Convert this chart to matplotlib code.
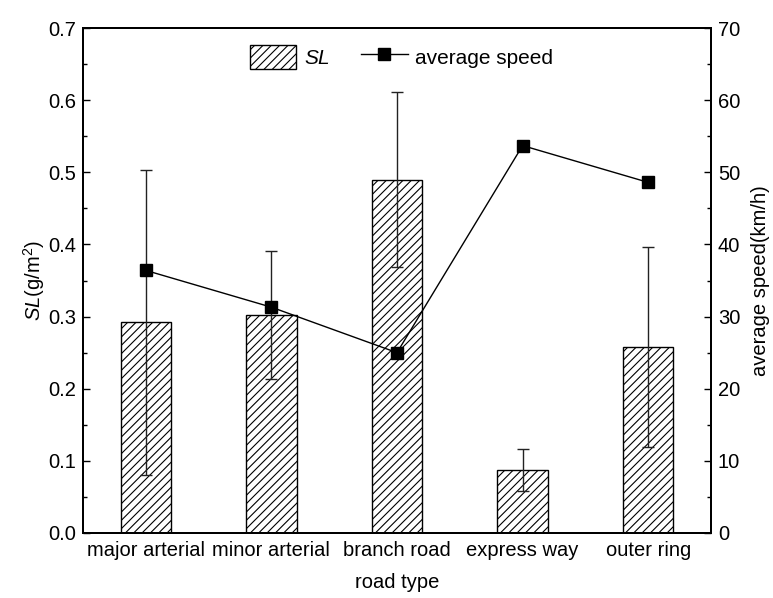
import matplotlib
matplotlib.use("Agg")
import matplotlib.pyplot as plt
import numpy as np
from matplotlib.ticker import MultipleLocator

plt.rcParams['font.family'] = ['Liberation Sans', 'DejaVu Sans']
plt.rcParams['mathtext.fontset'] = 'custom'
plt.rcParams['mathtext.rm'] = 'Liberation Sans'
plt.rcParams['mathtext.it'] = 'Liberation Sans:italic'
plt.rcParams['hatch.linewidth'] = 0.8

categories = ["major arterial", "minor arterial", "branch road", "express way", "outer ring"]
sl_values = [0.292, 0.302, 0.490, 0.087, 0.258]
sl_errors = [0.211, 0.089, 0.121, 0.029, 0.139]
avg_speed = [36.4, 31.3, 25.0, 53.7, 48.6]

fig = plt.figure(figsize=(7.73, 5.98), dpi=100)
ax = fig.add_axes([83/773, 1-533/598, 628/773, 505/598])
x = np.arange(len(categories))

bars = ax.bar(x, sl_values, width=0.4, color='white', edgecolor='black',
              hatch='////', linewidth=1.0, label='$\\mathit{SL}$', zorder=2)
ax.errorbar(x, sl_values, yerr=sl_errors, fmt='none', ecolor='#222222',
            elinewidth=1.0, capsize=4, capthick=1.0, zorder=3)

ax.set_xlim(-0.5, 4.5)
ax.set_ylim(0, 0.7)
ax.yaxis.set_minor_locator(MultipleLocator(0.05))
ax.set_yticks(np.arange(0, 0.71, 0.1))
ax.set_yticklabels([f"{v:.1f}" for v in np.arange(0, 0.71, 0.1)])
ax.set_xticks(x)
ax.set_xticklabels(categories)
ax.tick_params(axis='both', which='both', direction='in', labelsize=14.5, width=1.0)
ax.tick_params(axis='y', which='major', length=5, pad=5)
ax.tick_params(axis='y', which='minor', length=3)
ax.tick_params(axis='x', which='major', length=6, pad=6)
ax.set_xlabel('road type', fontsize=14.5, labelpad=9)
ax.set_ylabel('$\\mathit{SL}$(g/m$^2$)', fontsize=14.5, labelpad=1)
for s in ax.spines.values():
    s.set_linewidth(1.4)

ax2 = ax.twinx()
line, = ax2.plot(x, avg_speed, color='black', linewidth=1.0, marker='s',
                 markersize=8.5, label='average speed', zorder=4)
ax2.set_ylim(0, 70)
ax2.yaxis.set_major_locator(MultipleLocator(10))
ax2.yaxis.set_minor_locator(MultipleLocator(5))
ax2.tick_params(axis='y', which='both', direction='in', labelsize=14.5, width=1.0, pad=5)
ax2.tick_params(axis='y', which='major', length=5)
ax2.tick_params(axis='y', which='minor', length=3)
ax2.set_ylabel('average speed(km/h)', fontsize=14.5, labelpad=8)
for s in ax2.spines.values():
    s.set_linewidth(1.4)

leg = ax.legend([bars, line], ['$\\mathit{SL}$', 'average speed'], loc='center',
                bbox_to_anchor=(0.507, 0.943), ncol=2, frameon=False, fontsize=15,
                handlelength=2.25, handleheight=1.4, columnspacing=1.5, handletextpad=0.35)

fig.savefig('out.png', dpi=100)
